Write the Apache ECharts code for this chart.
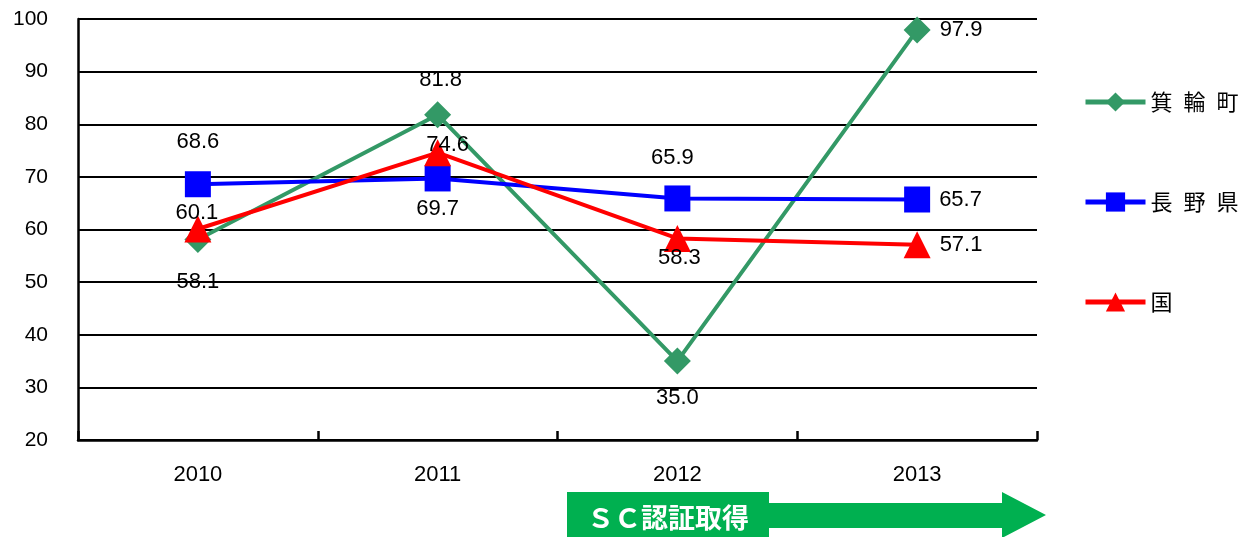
<!DOCTYPE html>
<html>
<head>
<meta charset="utf-8">
<script src="https://cdn.jsdelivr.net/npm/echarts@6/dist/echarts.min.js"></script>
<style>
  html, body { margin: 0; padding: 0; background: #fff; }
  #chart { width: 1252px; height: 537px; }
</style>
</head>
<body>
<div id="chart"></div>
<script>
// Years on the horizontal axis
const years = ['2010', '2011', '2012', '2013'];

// Series names and values
const seriesNames = ['箕\u2002輪\u2002町', '長\u2002野\u2002県', '国'];
const minowa = [58.1, 81.8, 35.0, 97.9];   // 箕輪町
const nagano = [68.6, 69.7, 65.9, 65.7];   // 長野県
const kuni   = [60.1, 74.6, 58.3, 57.1];   // 国

// Label offsets [dx, dy] from each marker; null = label to the right of the marker
const minowaLabelAt = [[0, 42], [3, -35], [0, 37], null];
const naganoLabelAt = [[0, -42], [0, 30], [-5, -41], null];
const kuniLabelAt   = [[-1, -16], [10, -8], [2, 19], null];

const NUM_FONT = '"Liberation Sans", Arial, sans-serif';
const JP_FONT = '"Noto Sans CJK JP", "Noto Sans", sans-serif';

function withLabels(values, placement) {
  return values.map((v, i) => {
    const at = placement[i];
    const label = at
      ? { position: 'inside', offset: at }
      : { position: 'right', distance: 9 };
    return { value: v, label };
  });
}

const labelStyle = {
  show: true,
  color: '#000',
  fontSize: 22,
  fontFamily: NUM_FONT,
  formatter: p => Number(p.value).toFixed(1)
};

const colors = ['#339966', '#0000ff', '#ff0000'];
const legendCenters = [102, 202, 302];

const chart = echarts.init(document.getElementById('chart'), null, { renderer: 'canvas' });

chart.setOption({
  animation: false,
  grid: { left: 78, right: 215, top: 19, bottom: 97, containLabel: false },
  legend: seriesNames.map((name, i) => ({
    data: [name],
    orient: 'vertical',
    left: 1083,
    top: legendCenters[i] - 12,
    padding: 0,
    itemWidth: 60,
    itemHeight: 24,
    itemGap: 6,
    selectedMode: false,
    lineStyle: { width: 5 },
    textStyle: { fontSize: 22, lineHeight: 24, color: '#000', fontFamily: JP_FONT }
  })),
  xAxis: {
    type: 'category',
    data: years,
    boundaryGap: true,
    axisLine: { lineStyle: { color: '#000', width: 2.5 } },
    axisTick: { show: true, inside: true, length: 9, lineStyle: { color: '#000', width: 2.5 } },
    axisLabel: { color: '#000', fontSize: 22, margin: 24, fontFamily: NUM_FONT },
    splitLine: { show: false }
  },
  yAxis: {
    type: 'value',
    min: 20,
    max: 100,
    interval: 10,
    axisLine: { show: true, lineStyle: { color: '#000', width: 2.5 } },
    axisTick: { show: false },
    axisLabel: { color: '#000', fontSize: 21, margin: 30, fontFamily: NUM_FONT },
    splitLine: { show: true, lineStyle: { color: '#000', width: 2 } }
  },
  series: [
    {
      name: seriesNames[0],
      type: 'line',
      data: withLabels(minowa, minowaLabelAt),
      symbol: 'diamond',
      symbolSize: 27,
      color: colors[0],
      lineStyle: { width: 4, color: colors[0] },
      itemStyle: { color: colors[0] },
      label: labelStyle,
      z: 2
    },
    {
      name: seriesNames[1],
      type: 'line',
      data: withLabels(nagano, naganoLabelAt),
      symbol: 'rect',
      symbolSize: 26,
      color: colors[1],
      lineStyle: { width: 4, color: colors[1] },
      itemStyle: { color: colors[1] },
      label: labelStyle,
      z: 3
    },
    {
      name: seriesNames[2],
      type: 'line',
      data: withLabels(kuni, kuniLabelAt),
      symbol: 'triangle',
      symbolSize: 27,
      color: colors[2],
      lineStyle: { width: 4, color: colors[2] },
      itemStyle: { color: colors[2] },
      label: labelStyle,
      z: 4
    }
  ],
  graphic: [
    {
      type: 'rect',
      shape: { x: 567, y: 492, width: 202, height: 45 },
      style: { fill: '#00b050' },
      z: 10
    },
    {
      type: 'polygon',
      shape: {
        points: [[768, 503], [1002, 503], [1002, 492], [1046, 515], [1002, 538], [1002, 528], [768, 528]]
      },
      style: { fill: '#00b050' },
      z: 10
    },
    {
      type: 'text',
      x: 668,
      y: 518,
      style: {
        text: 'ＳＣ認証取得',
        fill: '#fff',
        font: 'bold 27px ' + JP_FONT,
        align: 'center',
        verticalAlign: 'middle'
      },
      z: 11
    }
  ]
});
</script>
</body>
</html>
